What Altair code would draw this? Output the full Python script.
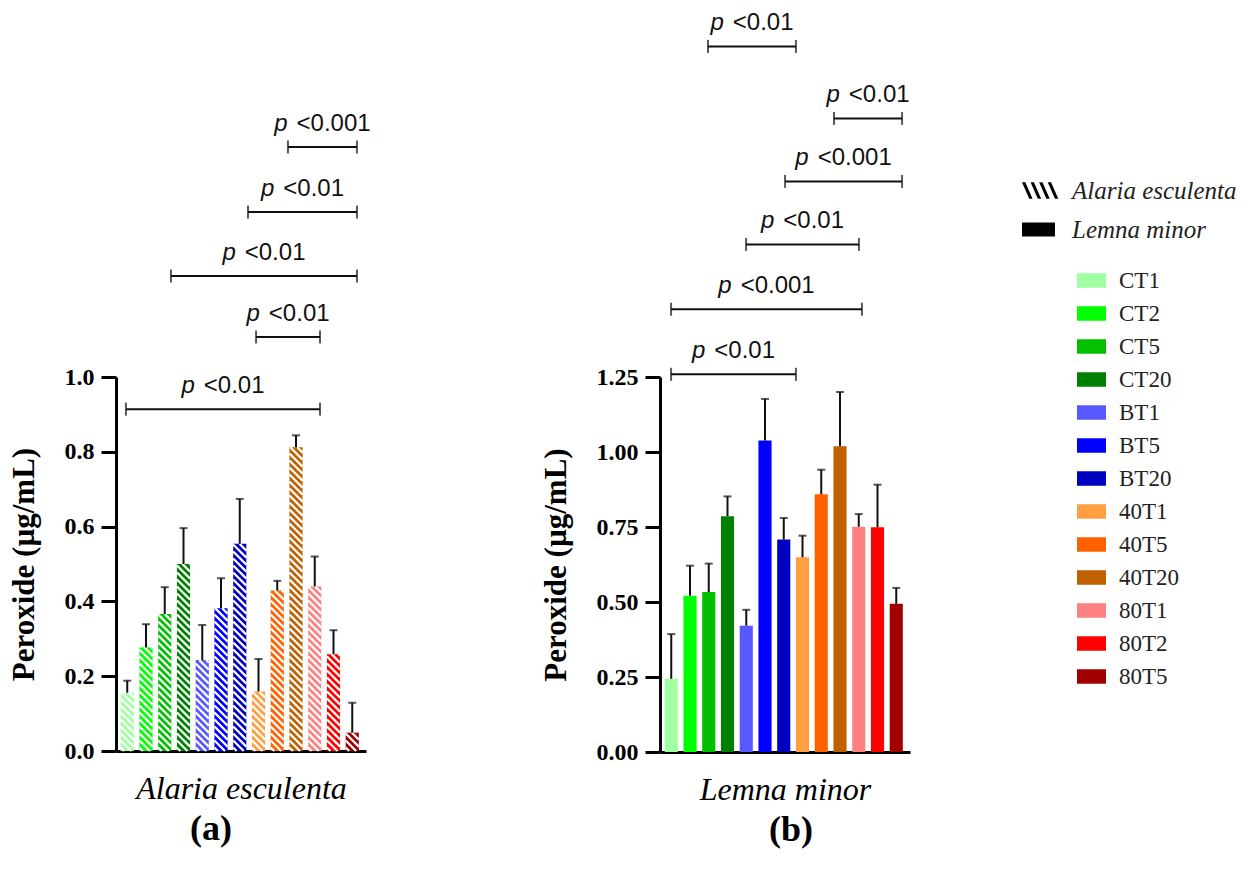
import altair as alt
import pandas as pd

categories = ["CT1", "CT2", "CT5", "CT20", "BT1", "BT5", "BT20",
              "40T1", "40T5", "40T20", "80T1", "80T2", "80T5"]
colors = ["#a0ffa0", "#00ff00", "#00c000", "#008000", "#5858ff", "#0000ff", "#0000c0",
          "#ff9f40", "#ff6000", "#c06000", "#ff8080", "#ff0000", "#a00000"]

alaria_mean = [0.156, 0.277, 0.366, 0.500, 0.243, 0.382, 0.554, 0.159, 0.429, 0.812, 0.440, 0.259, 0.049]
alaria_err_top = [0.188, 0.339, 0.438, 0.596, 0.337, 0.462, 0.674, 0.246, 0.455, 0.844, 0.520, 0.323, 0.129]
lemna_mean = [0.244, 0.521, 0.533, 0.786, 0.421, 1.038, 0.708, 0.649, 0.859, 1.019, 0.751, 0.749, 0.494]
lemna_err_top = [0.393, 0.621, 0.628, 0.852, 0.474, 1.177, 0.780, 0.721, 0.941, 1.200, 0.793, 0.891, 0.547]

# significance brackets (in bar-position units) and their heights
alaria_br_start = [8.57, 6.44, 2.33, 6.87, -0.07]
alaria_br_end = [12.25, 12.25, 12.25, 10.28, 10.28]
alaria_br_y = [1.615, 1.441, 1.270, 1.107, 0.914]
alaria_br_label = ["<0.001", "<0.01", "<0.01", "<0.01", "<0.01"]

lemna_br_start = [1.96, 8.68, 6.07, 3.99, -0.01, -0.01]
lemna_br_end = [6.65, 12.31, 12.31, 10.01, 10.17, 6.65]
lemna_br_y = [2.352, 2.112, 1.902, 1.692, 1.476, 1.259]
lemna_br_label = ["<0.01", "<0.01", "<0.001", "<0.01", "<0.001", "<0.01"]

species = ["Alaria esculenta", "Lemna minor"]

W = 250
X_DOMAIN = [-0.6, 12.733]
PX_PER_X = W / (X_DOMAIN[1] - X_DOMAIN[0])
BAR_HALF = 0.35
SERIF = "Liberation Serif"
SANS = "Liberation Sans"
FS_P = 24


def hatch_path():
    parts = []
    for s in [-1.0, -0.48, 0.04, 0.56]:
        parts.append("M%.2f,-0.5L%.2f,-0.5L%.2f,0.5L%.2f,0.5Z" % (s, s + 0.2, s + 0.64, s + 0.44))
    return "".join(parts)


HATCH = hatch_path()
RECT = "M-1,-0.42H1V0.42H-1Z"

color_scale = alt.Scale(domain=categories, range=colors)
color_legend = alt.Legend(orient="none", legendX=961, legendY=-111, title=None,
                          symbolType="M-1,-0.5H1V0.5H-1Z", symbolSize=841,
                          symbolStrokeWidth=0, labelFont=SERIF, labelFontSize=23,
                          labelColor="#222", labelOffset=13, rowPadding=6)


def char_w(s):
    table = {"<": 0.584, "0": 0.556, ".": 0.278, "1": 0.556}
    return sum(table.get(c, 0.556) for c in s) * FS_P


def build(means, errs, bs, be, by, bl, ymax, H, yvals, fmt, xtitle, ptitle, hatched, tdx):
    px_per_y = H / ymax
    df = pd.DataFrame({"cat": categories, "mean": means, "err": errs})
    df["pos"] = range(len(categories))
    df["xl"] = df["pos"] - BAR_HALF
    df["xr"] = df["pos"] + BAR_HALF
    df["base"] = 0.0

    xs = alt.Scale(domain=X_DOMAIN, nice=False, zero=False)
    ys = alt.Scale(domain=[0, ymax], nice=False)
    xax = alt.Axis(title=xtitle, labels=False, ticks=False, grid=False, domainWidth=3,
                   domainColor="black", titleFont=SERIF, titleFontSize=32,
                   titleFontStyle="italic", titleFontWeight="normal", titleColor="black",
                   titlePadding=22)
    yax = alt.Axis(title="Peroxide (\u00b5g/mL)", values=yvals, format=fmt, grid=False,
                   domainWidth=3, domainColor="black", tickWidth=3, tickColor="black",
                   tickSize=15, labelPadding=7, labelFont=SERIF, labelFontSize=24,
                   labelFontWeight="bold", labelColor="black", titleFont=SERIF,
                   titleFontSize=31, titleFontWeight="bold", titleColor="black",
                   titlePadding=24, labelFlush=False)

    def X(f):
        return alt.X(f, type="quantitative", scale=xs, axis=xax)

    def Y(f):
        return alt.Y(f, type="quantitative", scale=ys, axis=yax)

    layers = []
    bars = alt.Chart(df).mark_bar().encode(
        x=X("xl"), x2="xr", y=Y("mean"), y2="base",
        color=alt.Color("cat:N", scale=color_scale, legend=color_legend))
    layers.append(bars)

    if hatched:
        rows = []
        P = 7.0
        bw = 2 * BAR_HALF * PX_PER_X
        for i, v in enumerate(means):
            h = v * px_per_y
            c = P / 2
            while c < bw + h:
                x0 = max(0.0, c - h)
                x1 = min(bw, c)
                if x1 - x0 > 0.3:
                    rows.append({"sx": i - BAR_HALF + x0 / PX_PER_X,
                                 "sx2": i - BAR_HALF + x1 / PX_PER_X,
                                 "sy": (c - x0) / px_per_y,
                                 "sy2": (c - x1) / px_per_y})
                c += P
        sdf = pd.DataFrame(rows)
        layers.append(alt.Chart(sdf).mark_rule(color="white", strokeWidth=2.2,
                                               strokeCap="butt").encode(
            x=X("sx"), x2="sx2", y=Y("sy"), y2="sy2"))

    layers.append(alt.Chart(df).mark_rule(color="#111", strokeWidth=2).encode(
        x=X("pos"), y=Y("mean"), y2="err"))
    layers.append(alt.Chart(df).mark_tick(orient="horizontal", size=8, thickness=2,
                                          color="#111").encode(x=X("pos"), y=Y("err")))

    bdf = pd.DataFrame({"s": bs, "e": be, "y": by, "lab": bl})
    bdf["c"] = (bdf["s"] + bdf["e"]) / 2
    wp = 0.556 * FS_P
    gap = 9
    tot = bdf["lab"].map(char_w) + wp + gap
    bdf["xp"] = bdf["c"] + (-tot / 2 + wp) / PX_PER_X
    bdf["xq"] = bdf["xp"] + gap / PX_PER_X
    ends = pd.DataFrame({"x": list(bs) + list(be), "y": list(by) + list(by)})

    layers.append(alt.Chart(bdf).mark_rule(color="#111", strokeWidth=2).encode(
        x=X("s"), x2="e", y=Y("y")))
    layers.append(alt.Chart(ends).mark_tick(orient="vertical", size=13, thickness=2,
                                            color="#111").encode(x=X("x"), y=Y("y")))
    layers.append(alt.Chart(bdf).mark_text(text="p", font=SANS, fontSize=FS_P,
                                           fontStyle="italic", align="right",
                                           baseline="alphabetic", dy=-16,
                                           color="#111").encode(x=X("xp"), y=Y("y")))
    layers.append(alt.Chart(bdf).mark_text(font=SANS, fontSize=FS_P, align="left",
                                           baseline="alphabetic", dy=-16,
                                           color="#111").encode(
        x=X("xq"), y=Y("y"), text="lab:N"))

    if not hatched:
        sp = pd.DataFrame({"species": species})
        layers.append(alt.Chart(sp).mark_point(filled=True, color="black", size=0).encode(
            x=alt.value(0), y=alt.value(0),
            shape=alt.Shape("species:N",
                            scale=alt.Scale(domain=species, range=[HATCH, RECT]),
                            legend=alt.Legend(orient="none", legendX=906, legendY=-203,
                                              title=None, symbolSize=1089,
                                              symbolFillColor="black",
                                              symbolStrokeColor="black",
                                              symbolStrokeWidth=0, symbolOpacity=1,
                                              labelFont=SERIF, labelFontSize=25,
                                              labelFontStyle="italic", labelColor="#222",
                                              labelOffset=17, rowPadding=9,
                                              labelLimit=400))))

    return alt.layer(*layers).properties(
        width=W, height=H,
        title=alt.TitleParams(ptitle, orient="bottom", font=SERIF, fontSize=36,
                              fontWeight="bold", color="black", dx=tdx, offset=8))


left = build(alaria_mean, alaria_err_top, alaria_br_start, alaria_br_end, alaria_br_y,
             alaria_br_label, 1.0, 374, [0, 0.2, 0.4, 0.6, 0.8, 1.0], ".1f",
             "Alaria esculenta", "(a)", True, -30)
right = build(lemna_mean, lemna_err_top, lemna_br_start, lemna_br_end, lemna_br_y,
              lemna_br_label, 1.25, 375, [0, 0.25, 0.5, 0.75, 1.0, 1.25], ".2f",
              "Lemna minor", "(b)", False, 6)

chart = alt.hconcat(left, right, spacing=169).properties(
    padding={"left": 8, "top": 11, "right": 5, "bottom": 5},
    background="white"
).configure_view(stroke=None)

chart.save("out.html", embed_options={"renderer": "svg", "actions": False})
